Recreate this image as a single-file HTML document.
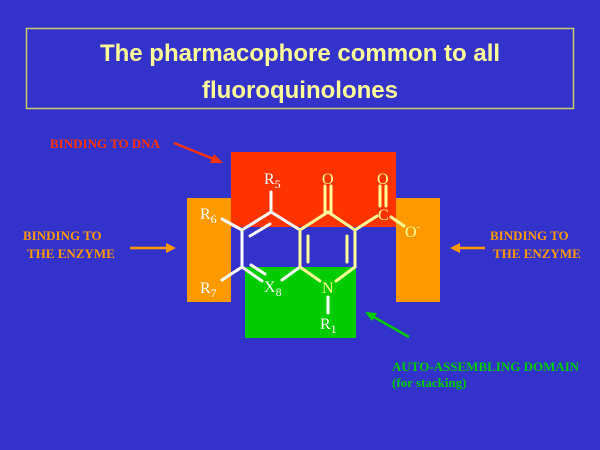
<!DOCTYPE html>
<html><head><style>
html,body{margin:0;padding:0;background:#3333cc;}
</style></head><body>
<svg width="600" height="450" xmlns="http://www.w3.org/2000/svg" style="display:block">
<rect width="600" height="450" fill="#3333cc"/>
<rect x="26.5" y="28.5" width="547" height="80" fill="none" stroke="#cccc66" stroke-width="1.5"/>
<g font-family="Liberation Sans, sans-serif" font-weight="bold" font-size="24" fill="#ffff99" text-anchor="middle">
<text x="300" y="61">The pharmacophore common to all</text>
<text x="300" y="98">fluoroquinolones</text>
</g>
<rect x="231" y="152" width="165" height="75" fill="#ff3300"/>
<rect x="187" y="198" width="44" height="104" fill="#ff9900"/>
<rect x="396" y="198" width="44" height="104" fill="#ff9900"/>
<rect x="245" y="267" width="111" height="71" fill="#00cc00"/>
<g stroke="#ffffff" stroke-width="3" fill="none" stroke-linecap="round">
<line x1="271" y1="212" x2="242" y2="230"/>
<line x1="242" y1="230" x2="242" y2="267"/>
<line x1="242" y1="267" x2="262" y2="281"/>
<line x1="282" y1="280" x2="300" y2="267"/>
<line x1="271" y1="212" x2="300" y2="230"/>
<line x1="271" y1="212" x2="271" y2="192"/>
<line x1="242" y1="230" x2="222" y2="219"/>
<line x1="242" y1="267" x2="222" y2="280"/>
<line x1="250" y1="236" x2="270" y2="224"/>
<line x1="251" y1="265" x2="265" y2="274"/>
<line x1="328" y1="297" x2="328" y2="313"/>
</g>
<g stroke="#ffff99" stroke-width="3" fill="none" stroke-linecap="round">
<line x1="300" y1="230" x2="300" y2="267"/>
<line x1="308" y1="236" x2="308" y2="262"/>
<line x1="300" y1="230" x2="328" y2="212"/>
<line x1="328" y1="212" x2="355" y2="230"/>
<line x1="355" y1="230" x2="355" y2="267"/>
<line x1="347" y1="236" x2="347" y2="262"/>
<line x1="355" y1="267" x2="336" y2="281"/>
<line x1="300" y1="267" x2="320" y2="281"/>
<line x1="325" y1="212" x2="325" y2="186"/>
<line x1="331" y1="212" x2="331" y2="186"/>
<line x1="355" y1="230" x2="377" y2="216"/>
<line x1="380" y1="206" x2="380" y2="186"/>
<line x1="386" y1="206" x2="386" y2="186"/>
<line x1="391" y1="217" x2="404" y2="226"/>
</g>
<g font-family="Liberation Serif, serif" font-size="16" fill="#ffffff">
<text x="264" y="184">R<tspan font-size="12" dy="4">5</tspan></text>
<text x="200" y="219">R<tspan font-size="12" dy="4">6</tspan></text>
<text x="200" y="293">R<tspan font-size="12" dy="4">7</tspan></text>
<text x="264" y="292">X<tspan font-size="12" dy="4">8</tspan></text>
<text x="320" y="329">R<tspan font-size="12" dy="4">1</tspan></text>
</g>
<g font-family="Liberation Serif, serif" font-size="16" fill="#ffff99">
<text x="322" y="184">O</text>
<text x="377" y="184">O</text>
<text x="378" y="220">C</text>
<text x="405" y="237">O<tspan font-size="10" dy="-7">-</tspan></text>
<text x="322" y="293">N</text>
</g>
<g font-family="Liberation Serif, serif" font-weight="bold" font-size="13">
<text x="50" y="148" fill="#ff3300">BINDING TO DNA</text>
<text x="23" y="240" fill="#ff9900">BINDING TO</text>
<text x="27" y="258" fill="#ff9900">THE ENZYME</text>
<text x="490" y="240" fill="#ff9900">BINDING TO</text>
<text x="493" y="258" fill="#ff9900">THE ENZYME</text>
<text x="392" y="371" fill="#00cc00">AUTO-ASSEMBLING DOMAIN</text>
<text x="392" y="387" fill="#00cc00">(for stacking)</text>
</g>
<g stroke-width="2.5">
<line x1="174" y1="143" x2="216" y2="160" stroke="#ff3300"/>
<polygon points="223,163 210,163 214,154" fill="#ff3300"/>
<line x1="130" y1="248" x2="168" y2="248" stroke="#ff9900"/>
<polygon points="176,248 166,243 166,253" fill="#ff9900"/>
<line x1="485" y1="248" x2="458" y2="248" stroke="#ff9900"/>
<polygon points="450,248 460,243 460,253" fill="#ff9900"/>
<line x1="409" y1="337" x2="372" y2="316" stroke="#00cc00"/>
<polygon points="365,312 377,313 372,321" fill="#00cc00"/>
</g>
</svg>
</body></html>
